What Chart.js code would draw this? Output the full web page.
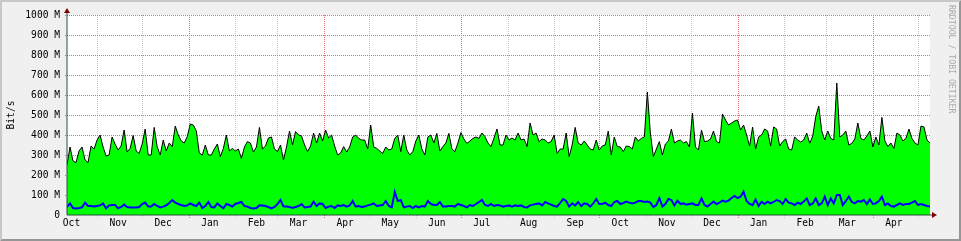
<!DOCTYPE html>
<html>
<head>
<meta charset="utf-8">
<script src="https://cdn.jsdelivr.net/npm/chart.js@4/dist/chart.umd.min.js"></script>
<style>
  html, body { margin: 0; padding: 0; background: #f0f0f0; }
  canvas { display: block; }
</style>
</head>
<body>
<canvas id="chart" width="961" height="241"></canvas>
<script>
// first sample is 12 Oct, one sample every 2 days
const START = Date.UTC(2012, 9, 12);
const STEP_DAYS = 2;
const SPAN_DAYS = 574;
const MONTHS = ['Jan', 'Feb', 'Mar', 'Apr', 'May', 'Jun', 'Jul', 'Aug', 'Sep', 'Oct', 'Nov', 'Dec'];
const yTicks = [0, 100, 200, 300, 400, 500, 600, 700, 800, 900, 1000];

// Mbit/s
const inbound = [
  250, 340, 270, 262, 320, 340, 275, 262, 345, 330, 375, 400, 340, 295, 300, 390, 355, 325, 345, 425, 315, 333, 398, 320,
  308, 355, 430, 300, 300, 438, 340, 300, 375, 320, 360, 342, 445, 400, 370, 360, 392, 455, 450, 420, 310, 300, 350, 300,
  300, 330, 355, 292, 333, 400, 320, 333, 320, 330, 283, 340, 367, 360, 315, 340, 438, 330, 345, 385, 390, 330, 317, 350,
  275, 340, 420, 350, 417, 400, 395, 350, 317, 345, 410, 360, 410, 370, 425, 385, 400, 345, 300, 310, 342, 315, 340, 390,
  400, 383, 375, 375, 330, 450, 340, 333, 320, 308, 340, 325, 330, 383, 400, 317, 400, 325, 300, 317, 370, 400, 330, 300,
  390, 400, 360, 408, 320, 342, 360, 408, 330, 317, 360, 412, 380, 358, 370, 383, 390, 383, 410, 392, 360, 342, 385, 430,
  350, 350, 400, 375, 385, 375, 410, 375, 380, 342, 460, 400, 410, 367, 380, 375, 360, 367, 400, 308, 330, 330, 410, 292,
  350, 438, 360, 350, 370, 350, 330, 325, 375, 325, 345, 350, 420, 300, 390, 342, 340, 317, 345, 342, 330, 390, 370, 383,
  390, 615, 410, 292, 330, 367, 300, 355, 370, 430, 360, 370, 375, 360, 367, 340, 510, 340, 325, 425, 367, 370, 380, 420,
  367, 360, 505, 475, 450, 460, 470, 475, 425, 450, 400, 345, 440, 330, 390, 400, 430, 420, 345, 440, 430, 345, 367, 380,
  330, 325, 390, 375, 365, 375, 410, 358, 395, 492, 545, 420, 375, 420, 383, 375, 660, 390, 400, 420, 350, 358, 380, 460,
  383, 375, 395, 420, 340, 390, 350, 488, 370, 342, 360, 333, 410, 400, 370, 383, 430, 383, 360, 350, 445, 440, 375, 360
];
const outbound = [
  40, 58, 35, 33, 35, 38, 62, 45, 45, 42, 45, 48, 58, 33, 48, 50, 50, 33, 40, 52, 40, 37, 38, 38,
  40, 55, 62, 42, 42, 55, 45, 38, 42, 48, 60, 75, 62, 55, 50, 45, 48, 58, 50, 45, 62, 35, 45, 65,
  40, 38, 58, 45, 33, 55, 50, 42, 55, 60, 65, 45, 42, 35, 33, 35, 48, 47, 45, 40, 33, 40, 55, 75,
  42, 42, 40, 35, 40, 45, 55, 38, 40, 42, 67, 45, 58, 55, 35, 42, 45, 35, 48, 45, 50, 42, 48, 70,
  42, 45, 40, 42, 48, 52, 58, 45, 48, 50, 70, 45, 38, 115, 70, 75, 38, 42, 45, 35, 45, 38, 45, 42,
  70, 55, 50, 50, 65, 42, 42, 45, 45, 42, 55, 50, 45, 38, 50, 45, 55, 65, 75, 50, 45, 55, 45, 50,
  48, 42, 45, 48, 42, 48, 45, 48, 40, 38, 48, 52, 55, 58, 48, 65, 58, 52, 45, 42, 60, 80, 70, 42,
  58, 48, 65, 45, 58, 55, 42, 58, 80, 55, 55, 62, 50, 45, 65, 70, 55, 60, 67, 62, 58, 62, 70, 70,
  65, 67, 62, 40, 50, 85, 42, 55, 80, 75, 48, 72, 55, 58, 52, 55, 58, 50, 50, 83, 50, 42, 55, 67,
  55, 62, 72, 67, 72, 85, 95, 85, 92, 117, 70, 55, 50, 78, 45, 67, 55, 67, 58, 65, 75, 70, 55, 80,
  62, 58, 50, 62, 55, 67, 83, 50, 58, 83, 50, 58, 92, 50, 83, 58, 100, 100, 50, 70, 92, 65, 58, 70,
  67, 75, 55, 78, 55, 58, 70, 92, 50, 58, 45, 42, 50, 58, 50, 55, 55, 62, 70, 50, 55, 50, 45, 42
];

const FONT = { family: 'DejaVu Sans Mono', size: 9.6 };
const MAJOR_GRID = '#e07070';
const MINOR_GRID = '#c4c4c4';
const DAY = 86400000;
const dayOf = (y, m, d) => Math.round((Date.UTC(y, m, d) - START) / DAY);

// month starts get grid lines, the 15th gets the label
const tickInfo = new Map();
for (let k = 0; ; k++) {
  const y = 2012 + Math.floor((9 + k) / 12);
  const m = (9 + k) % 12;
  const first = dayOf(y, m, 1);
  const mid = dayOf(y, m, 15);
  if (first > SPAN_DAYS) break;
  if (first > 0) tickInfo.set(first, { grid: true, major: m % 3 === 0 });
  if (mid >= 0 && mid <= SPAN_DAYS) tickInfo.set(mid, { label: MONTHS[m] });
}
const xTicks = [...tickInfo.keys()].sort((a, b) => a - b);

// dotted rrdtool grid, 1px on / 1px off
function dotted(ctx, x0, y0, x1, y1, color) {
  ctx.fillStyle = color;
  if (x0 === x1) {
    for (let y = y0; y <= y1; y += 2) ctx.fillRect(x0, y, 1, 1);
  } else {
    for (let x = x0; x <= x1; x += 2) ctx.fillRect(x, y0, 1, 1);
  }
}

const rrdFrame = {
  id: 'rrdFrame',
  beforeDraw(chart) {
    const { ctx, chartArea: a, width, height } = chart;
    ctx.save();
    ctx.fillStyle = '#f0f0f0';
    ctx.fillRect(0, 0, width, height);
    ctx.fillStyle = '#ffffff';
    ctx.fillRect(a.left, a.top, a.right - a.left, a.bottom - a.top);
    ctx.restore();
  },
  beforeDatasetsDraw(chart) {
    const { ctx, chartArea: a, scales } = chart;
    const L = Math.round(a.left), R = Math.round(a.right);
    const T = Math.round(a.top), B = Math.round(a.bottom);
    ctx.save();
    scales.x.ticks.forEach(t => {
      const info = tickInfo.get(t.value);
      if (!info || !info.grid) return;
      const px = Math.round(scales.x.getPixelForValue(t.value));
      dotted(ctx, px, T, px, B + 2, info.major ? MAJOR_GRID : MINOR_GRID);
    });
    scales.y.ticks.forEach(t => {
      if (t.value === 0) return;
      const py = Math.round(scales.y.getPixelForValue(t.value));
      dotted(ctx, L - 2, py, R, py, MAJOR_GRID);
    });
    ctx.restore();
  },
  afterDraw(chart) {
    const { ctx, chartArea: a, width, height } = chart;
    ctx.save();
    // axes
    ctx.strokeStyle = '#2c4d43';
    ctx.lineWidth = 1;
    ctx.beginPath();
    ctx.moveTo(a.left, a.bottom);
    ctx.lineTo(a.left, a.top - 3);
    ctx.moveTo(a.left, a.bottom);
    ctx.lineTo(a.right + 3, a.bottom);
    ctx.stroke();
    // arrows
    ctx.fillStyle = '#800000';
    ctx.beginPath();
    ctx.moveTo(a.left - 3, a.top - 2);
    ctx.lineTo(a.left + 3, a.top - 2);
    ctx.lineTo(a.left, a.top - 7);
    ctx.closePath();
    ctx.moveTo(a.right + 2, a.bottom - 3);
    ctx.lineTo(a.right + 2, a.bottom + 3);
    ctx.lineTo(a.right + 7, a.bottom);
    ctx.closePath();
    ctx.fill();
    // 3d border
    ctx.fillStyle = '#c8c8c8';
    ctx.beginPath();
    ctx.moveTo(0, height); ctx.lineTo(2, height - 2); ctx.lineTo(2, 2);
    ctx.lineTo(width - 2, 2); ctx.lineTo(width, 0); ctx.lineTo(0, 0);
    ctx.closePath(); ctx.fill();
    ctx.fillStyle = '#969696';
    ctx.beginPath();
    ctx.moveTo(2, height - 2); ctx.lineTo(width - 2, height - 2); ctx.lineTo(width - 2, 2);
    ctx.lineTo(width, 0); ctx.lineTo(width, height); ctx.lineTo(0, height);
    ctx.closePath(); ctx.fill();
    // watermark
    ctx.translate(951, 5);
    ctx.rotate(Math.PI / 2);
    ctx.font = '8.2px "DejaVu Sans Mono"';
    ctx.fillStyle = '#aaaaaa';
    ctx.textBaseline = 'middle';
    ctx.textAlign = 'left';
    ctx.fillText('RRDTOOL / TOBI OETIKER', 0, 0);
    ctx.restore();
  }
};

new Chart(document.getElementById('chart'), {
  type: 'line',
  data: {
    datasets: [
      {
        data: outbound.map((v, i) => ({ x: i * STEP_DAYS, y: v })),
        borderColor: '#0000ff',
        borderWidth: 2,
        pointRadius: 0,
        fill: false,
      },
      {
        data: inbound.map((v, i) => ({ x: i * STEP_DAYS, y: v })),
        borderColor: '#000000',
        borderWidth: 1,
        backgroundColor: '#00ff00',
        pointRadius: 0,
        fill: 'origin',
      },
    ],
  },
  options: {
    responsive: false,
    animation: false,
    layout: { padding: { top: 15, right: 31, left: 0, bottom: 0 } },
    plugins: { legend: { display: false }, tooltip: { enabled: false } },
    scales: {
      x: {
        type: 'linear',
        min: 0,
        max: SPAN_DAYS,
        afterFit: s => { s.height = 26; },
        afterBuildTicks: s => { s.ticks = xTicks.map(value => ({ value })); },
        ticks: {
          autoSkip: false,
          maxRotation: 0,
          padding: 3,
          color: '#000',
          font: FONT,
          callback: v => (tickInfo.get(v) || {}).label || '',
        },
        grid: { display: false, drawTicks: false },
        border: { display: false },
      },
      y: {
        min: 0,
        max: 1000,
        afterFit: s => { s.width = 67; },
        afterBuildTicks: s => { s.ticks = yTicks.map(value => ({ value })); },
        ticks: {
          padding: 7,
          color: '#000',
          font: FONT,
          callback: v => (v === 0 ? '0' : v + ' M'),
        },
        grid: { display: false, drawTicks: false },
        border: { display: false },
        title: {
          display: true,
          text: 'Bit/s',
          color: '#000',
          font: FONT,
          padding: { top: 6, bottom: 0 },
        },
      },
    },
  },
  plugins: [rrdFrame],
});
</script>
</body>
</html>
